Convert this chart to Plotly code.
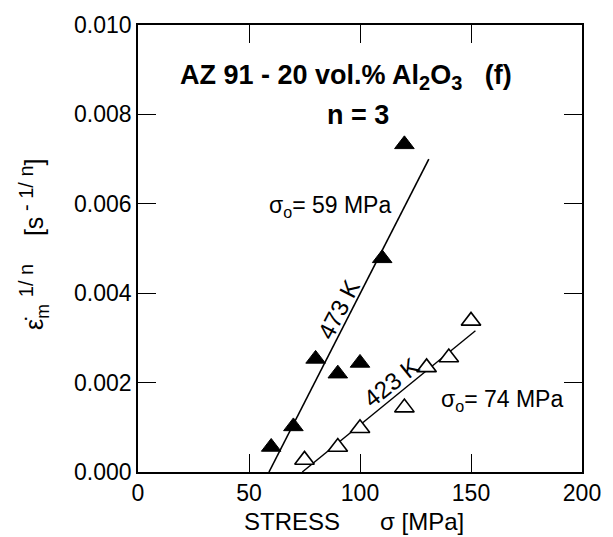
import plotly.graph_objects as go

# Creep data: AZ 91 - 20 vol.% Al2O3 (f), strain rate^(1/n) vs applied stress
stress_473 = [60, 70, 80, 90, 100, 110, 120]
rate_473 = [0.00056, 0.00102, 0.00253, 0.00220, 0.00244, 0.00478, 0.00733]

stress_423 = [75, 90, 100, 120, 130, 140, 150]
rate_423 = [0.00027, 0.00056, 0.00098, 0.00144, 0.00234, 0.00256, 0.00338]

# Linear fits (intercept at the threshold stress sigma_o)
fit_473_x = [59, 131]
fit_473_y = [0.0, 0.0070]
fit_423_x = [74, 152]
fit_423_y = [0.0, 0.00316]

x_ticks = [0, 50, 100, 150, 200]
y_ticks = [0.000, 0.002, 0.004, 0.006, 0.008, 0.010]

FONT = "Liberation Sans, Arial, sans-serif"

fig = go.Figure()

fig.add_trace(go.Scatter(x=fit_473_x, y=fit_473_y, mode="lines",
                         line=dict(color="black", width=1.6), showlegend=False))
fig.add_trace(go.Scatter(x=fit_423_x, y=fit_423_y, mode="lines",
                         line=dict(color="black", width=1.4), showlegend=False))
fig.add_trace(go.Scatter(x=stress_473, y=rate_473, mode="markers",
                         marker=dict(symbol="triangle-up", size=17, color="black",
                                     line=dict(color="black", width=1)),
                         showlegend=False))
fig.add_trace(go.Scatter(x=stress_423, y=rate_423, mode="markers",
                         marker=dict(symbol="triangle-up", size=17, color="white",
                                     line=dict(color="black", width=1.6)),
                         showlegend=False))

axis_common = dict(
    showline=True, linecolor="black", linewidth=1.6, mirror="ticks",
    ticks="inside", ticklen=18, tickwidth=1.4, tickcolor="black",
    showgrid=False, zeroline=False,
    tickfont=dict(family=FONT, size=23, color="black"),
)

fig.update_xaxes(range=[0, 200], tickvals=x_ticks, **axis_common)
fig.update_yaxes(range=[0, 0.010], tickvals=y_ticks, tickformat=".3f", **axis_common)

SUB = "<span style='font-size:20px'>{}</span>"

annotations = [
    dict(x=93.8, y=0.00884,
         text="<b>AZ 91 - 20 vol.% Al<sub>" + SUB.format("2") + "</sub>O<sub>"
              + SUB.format("3") + "</sub>&nbsp;&nbsp; (f)</b>",
         font=dict(size=27)),
    dict(x=99.1, y=0.00798, text="<b>n = 3</b>", font=dict(size=27)),
    dict(x=86.7, y=0.00593, text="σ<sub>o</sub>= 59 MPa", font=dict(size=23)),
    dict(x=164, y=0.00160, text="σ<sub>o</sub>= 74 MPa", font=dict(size=23)),
    dict(x=90.3, y=0.00364, text="473 K", textangle=-62.6, font=dict(size=24)),
    dict(x=114, y=0.00200, text="423 K", textangle=-38.6, font=dict(size=24)),
]
for a in annotations:
    a.update(xref="x", yref="y", showarrow=False, xanchor="center", yanchor="middle")
    a["font"].update(family=FONT, color="black")
    fig.add_annotation(**a)

# Axis titles
fig.add_annotation(x=(358 - 138) / 452, y=(472 - 522) / 452, xref="paper", yref="paper",
                   showarrow=False, xanchor="center", yanchor="middle",
                   text="STRESS&nbsp;&nbsp;&nbsp;&nbsp;&nbsp;&nbsp;σ [MPa]",
                   font=dict(family=FONT, size=24, color="black"))
fig.add_annotation(x=(32 - 138) / 452, y=0.51, xref="paper", yref="paper", showarrow=False,
                   xanchor="center", yanchor="middle", textangle=-90,
                   text="ε̇<sub>m</sub>&nbsp;<sup>" + SUB.format("1/ n") + "</sup>&nbsp;&nbsp;&nbsp;&nbsp;[s<sup>"
                        + SUB.format(" - 1/ n") + "</sup>]",
                   font=dict(family=FONT, size=25, color="black"))

fig.update_layout(
    width=613, height=537,
    margin=dict(l=138, r=23, t=20, b=65),
    paper_bgcolor="white", plot_bgcolor="white",
    font=dict(family=FONT, color="black"),
)

fig.write_html("out.html")
